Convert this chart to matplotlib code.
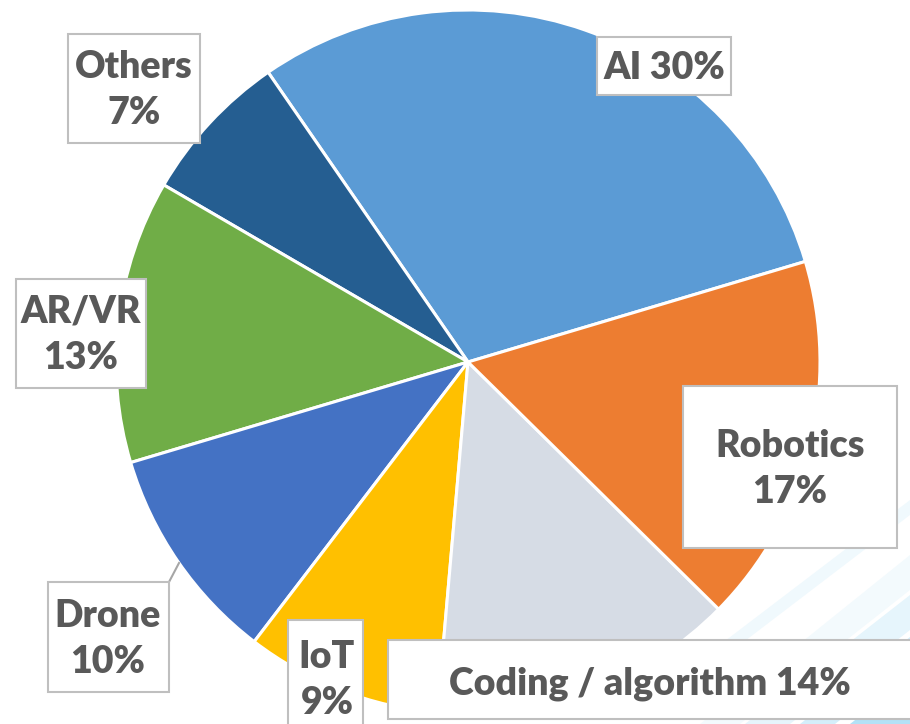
import matplotlib.pyplot as plt
from matplotlib.patches import Rectangle, Polygon

plt.rcParams['font.family'] = ['Lato', 'DejaVu Sans']

labels = ['AI', 'Others', 'AR/VR', 'Drone', 'IoT', 'Coding / algorithm', 'Robotics']
shares = [30, 7, 13, 10, 9, 14, 17]
colors = ['#5B9BD5', '#255E91', '#70AD47', '#4472C4', '#FFC000', '#D6DCE5', '#ED7D31']
label_texts = ['AI 30%', 'Others\n7%', 'AR/VR\n13%', 'Drone\n10%', 'IoT\n9%',
               'Coding / algorithm 14%', 'Robotics\n17%']

W, H = 910, 724
fig = plt.figure(figsize=(W / 100, H / 100), dpi=100)
fig.set_facecolor('w')
ax = fig.add_axes([0, 0, 1, 1])

def py(y):
    # pixel row (from top) -> data y
    return H - y

# faint diagonal streaks in the lower right corner (slide background)
streaks = [
    ([(700, 724), (740, 724), (910, 590), (910, 555)], '#F3FAFD'),
    ([(745, 724), (790, 724), (910, 630), (910, 595)], '#E6F5FC'),
    ([(800, 724), (835, 724), (910, 665), (910, 637)], '#D4EEFA'),
    ([(850, 724), (910, 724), (910, 677)], '#B3E1F6'),
    ([(700, 660), (720, 660), (910, 515), (910, 500)], '#F0F9FD'),
]
for pts, c in streaks:
    ax.add_patch(Polygon([(x, py(y)) for x, y in pts], closed=True,
                         facecolor=c, edgecolor='none', zorder=0))

ax.pie(shares, colors=colors, startangle=16.6, counterclock=True,
       center=(468, py(362)), radius=352, frame=True,
       wedgeprops=dict(edgecolor='white', linewidth=2.2))
ax.set_xlim(0, W)
ax.set_ylim(0, H)
ax.set_aspect('equal')
ax.axis('off')

# label boxes: (x0, y0, x1, y1) in pixels from top-left
boxes = [
    (597, 37, 731, 95),
    (68, 34, 200, 143),
    (16, 279, 146, 388),
    (48, 582, 169, 692),
    (288, 620, 363, 740),
    (388, 640, 930, 719),
    (683, 386, 897, 548),
]
text_centers = [(664, 68), (134, 90), (81, 335), (108, 639), (327, 680),
                (650, 684), (790, 469)]

# leader line for Drone
ax.plot([169, 179], [py(582), py(563)], color='#A6A6A6', lw=1.5, zorder=3)

for txt, (x0, y0, x1, y1), (cx, cy) in zip(label_texts, boxes, text_centers):
    ax.add_patch(Rectangle((x0, py(y1)), x1 - x0, y1 - y0, facecolor='white',
                           edgecolor='#BFBFBF', lw=1.5, zorder=4, clip_on=False))
    ax.text(cx, py(cy), txt, ha='center', va='center', fontsize=27,
            fontweight='heavy', color='#595959', linespacing=1.45, zorder=5)

fig.savefig('out.png', dpi=100, facecolor='w')
